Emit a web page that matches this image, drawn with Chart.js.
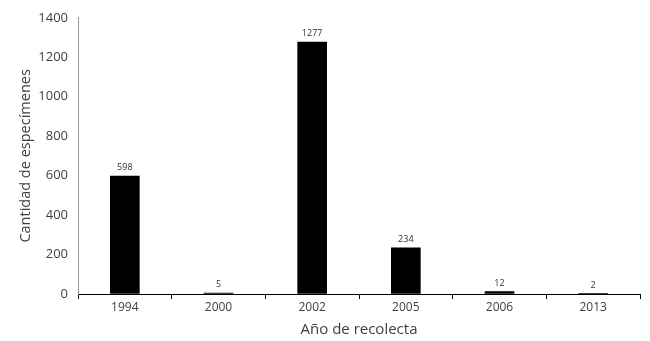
<!DOCTYPE html>
<html>
<head>
<meta charset="utf-8">
<script src="https://cdn.jsdelivr.net/npm/chart.js@4/dist/chart.umd.min.js"></script>
<style>
  html, body { margin: 0; padding: 0; background: #fff; }
  #wrap { width: 650px; height: 341px; }
</style>
</head>
<body>
<div id="wrap"><canvas id="chart" width="650" height="341"></canvas></div>
<script>
/* =====================
   DATA
===================== */
const years = ["1994", "2000", "2002", "2005", "2006", "2013"];
const specimens = [598, 5, 1277, 234, 12, 2];
const yTicks = [0, 200, 400, 600, 800, 1000, 1200, 1400];

const FONT = "'Open Sans', 'Liberation Sans', sans-serif";

// labels on top of each bar
const valueLabels = {
  id: "valueLabels",
  afterDatasetsDraw(chart) {
    const ctx = chart.ctx;
    const meta = chart.getDatasetMeta(0);
    ctx.save();
    ctx.font = "9px " + FONT;
    ctx.fillStyle = "#333";
    ctx.textAlign = "center";
    ctx.textBaseline = "bottom";
    meta.data.forEach((bar, i) => {
      ctx.fillText(specimens[i], bar.x, bar.y - 4);
    });
    ctx.restore();
  }
};

new Chart(document.getElementById("chart"), {
  type: "bar",
  data: {
    labels: years,
    datasets: [{
      data: specimens,
      backgroundColor: "#000",
      barThickness: 29
    }]
  },
  options: {
    responsive: false,
    animation: false,
    layout: { padding: { top: 15, right: 10, left: 0, bottom: 0 } },
    plugins: {
      legend: { display: false },
      tooltip: { enabled: false }
    },
    scales: {
      x: {
        afterFit: s => { s.height = 47; },
        grid: {
          offset: true,
          drawOnChartArea: false,
          tickLength: 5,
          color: "#000"
        },
        border: { color: "#000", width: 1 },
        ticks: { color: "#404040", font: { family: FONT, size: 12 }, padding: 1 },
        title: {
          display: true,
          text: "Año de recolecta",
          color: "#404040",
          font: { family: FONT, size: 15 },
          padding: { top: 0, bottom: 2 }
        }
      },
      y: {
        min: 0,
        max: 1400,
        afterFit: s => { s.width = 78; },
        afterBuildTicks: s => { s.ticks = yTicks.map(v => ({ value: v })); },
        grid: { drawOnChartArea: false, drawTicks: false },
        border: { color: "#999", width: 1 },
        ticks: {
          color: "#404040",
          font: { family: FONT, size: 13 },
          padding: 10,
          callback: v => String(v)
        },
        title: {
          display: true,
          text: "Cantidad de especímenes",
          color: "#404040",
          font: { family: FONT, size: 14.5 },
          padding: { top: 17, bottom: 0 }
        }
      }
    }
  },
  plugins: [valueLabels]
});
</script>
</body>
</html>
